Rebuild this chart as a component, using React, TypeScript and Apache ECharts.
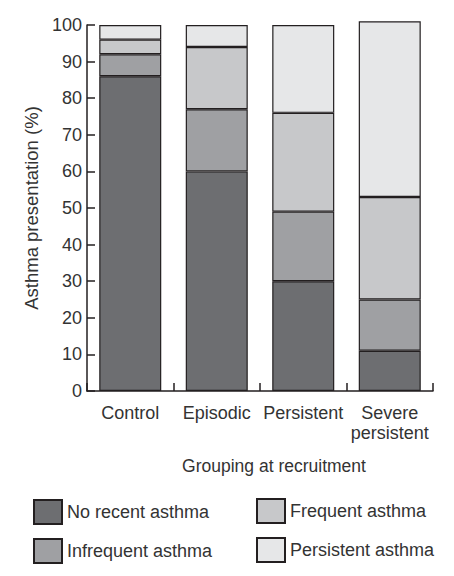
import React, { useEffect, useRef } from "react";
import * as echarts from "echarts";

const categories = ["Control", "Episodic", "Persistent", "Severe\npersistent"];
const noRecent = [86, 60, 30, 11];
const infrequent = [6, 17, 19, 14];
const frequent = [4, 17, 27, 28];
const persistent = [4, 6, 24, 48];
const yTicks = [0, 10, 20, 30, 40, 50, 60, 70, 80, 90, 100];

const FONT = "Liberation Sans, Arial, sans-serif";
const TXT = "#333333";
const EDGE = "#231f20";

export default function App() {
  const ref = useRef<HTMLDivElement>(null);
  useEffect(() => {
    if (!ref.current) return;
    const chart = echarts.init(ref.current, undefined, { renderer: "svg" });
    const mk = (name: string, data: number[], color: string) => ({
      name,
      type: "bar",
      stack: "total",
      data,
      barWidth: 62,
      clip: false,
      itemStyle: { color, borderColor: EDGE, borderWidth: 1.2 },
    });
    chart.setOption({
      animation: false,
      textStyle: { fontFamily: FONT },
      grid: { left: 87, top: 25, right: 21, bottom: 185 },
      xAxis: {
        type: "category",
        data: categories,
        axisLine: { lineStyle: { color: EDGE, width: 1.5 } },
        axisTick: { show: true, inside: true, length: 8, lineStyle: { color: EDGE, width: 1.5 } },
        axisLabel: { interval: 0, color: TXT, fontSize: 18, margin: 12, lineHeight: 20, fontFamily: FONT },
      },
      yAxis: {
        type: "value",
        min: yTicks[0],
        max: yTicks[yTicks.length - 1],
        interval: 10,
        name: "Asthma presentation (%)",
        nameLocation: "middle",
        nameGap: 36,
        nameTextStyle: { color: TXT, fontSize: 18.5, fontFamily: FONT },
        axisLine: { show: true, lineStyle: { color: EDGE, width: 1.5 } },
        axisTick: { show: true, inside: true, length: 8, lineStyle: { color: EDGE, width: 1.5 } },
        axisLabel: { color: TXT, fontSize: 18, margin: 5, fontFamily: FONT },
        splitLine: { show: false },
      },
      graphic: [
        {
          type: "text",
          x: 274,
          y: 466,
          style: {
            text: "Grouping at recruitment",
            fill: TXT,
            font: `17.5px ${FONT}`,
            textAlign: "center",
            textVerticalAlign: "middle",
          },
        },
      ],
      legend: [
        {
          data: ["No recent asthma", "Infrequent asthma"],
          orient: "vertical",
          left: 33,
          top: 499,
          itemWidth: 28,
          itemHeight: 24,
          itemGap: 13,
          icon: "rect",
          padding: 0,
          textStyle: { color: TXT, fontSize: 18, fontFamily: FONT },
        },
        {
          data: ["Frequent asthma", "Persistent asthma"],
          orient: "vertical",
          left: 256,
          top: 498,
          itemWidth: 28,
          itemHeight: 24,
          itemGap: 13,
          icon: "rect",
          padding: 0,
          textStyle: { color: TXT, fontSize: 18, fontFamily: FONT },
        },
      ],
      series: [
        mk("No recent asthma", noRecent, "#6d6e71"),
        mk("Infrequent asthma", infrequent, "#9fa0a3"),
        mk("Frequent asthma", frequent, "#c7c8ca"),
        mk("Persistent asthma", persistent, "#e6e7e8"),
      ],
    });
    return () => chart.dispose();
  }, []);
  return <div ref={ref} style={{ width: 454, height: 576, position: "absolute", left: 0, top: 0 }} />;
}
